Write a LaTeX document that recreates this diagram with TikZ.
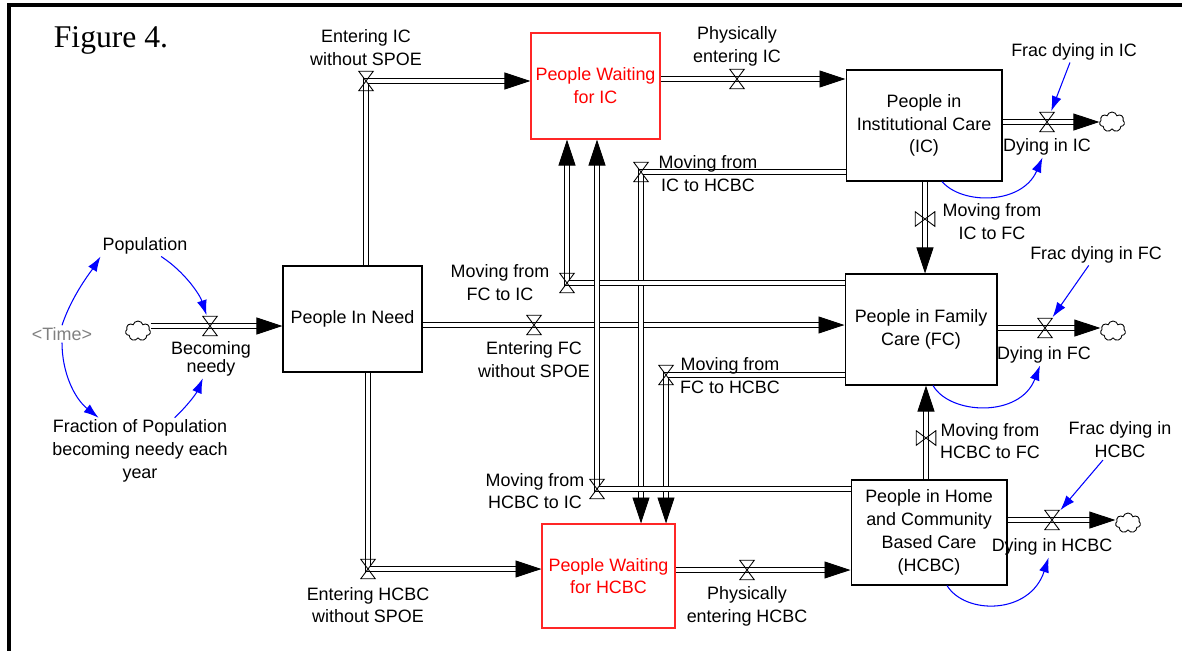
\documentclass[tikz,border=0pt]{standalone}
\usepackage{fontspec}
\setmainfont{Liberation Sans}
\newfontfamily\figfont{Liberation Serif}
\usetikzlibrary{positioning,arrows.meta,shapes.symbols,backgrounds,calc}
\definecolor{linkblue}{HTML}{0000FF}
\definecolor{stockred}{HTML}{FF0000}
\definecolor{shadow}{HTML}{808080}
\tikzset{
  stock/.style={rectangle, draw=black, line width=0.6pt, align=center, inner sep=1pt},
  waiting/.style={stock, draw=stockred!85, text=stockred},
  lbl/.style={align=center, inner sep=1pt},
  valve/.style={inner sep=0pt, minimum width=0.32cm, minimum height=0.42cm,
    path picture={\draw[line width=0.5pt]
      ([shift={(0.4pt,-0.4pt)}]path picture bounding box.north west) --
      ([shift={(-0.4pt,0.4pt)}]path picture bounding box.south east) --
      ([shift={(0.4pt,0.4pt)}]path picture bounding box.south west) --
      ([shift={(-0.4pt,-0.4pt)}]path picture bounding box.north east) -- cycle;}},
  vvalve/.style={inner sep=0pt, minimum width=0.42cm, minimum height=0.32cm,
    path picture={\draw[line width=0.5pt]
      ([shift={(0.4pt,-0.4pt)}]path picture bounding box.north west) --
      ([shift={(-0.4pt,0.4pt)}]path picture bounding box.south east) --
      ([shift={(-0.4pt,-0.4pt)}]path picture bounding box.north east) --
      ([shift={(0.4pt,0.4pt)}]path picture bounding box.south west) -- cycle;}},
  sink/.style={cloud, cloud puffs=7, cloud ignores aspect, draw, line width=0.5pt,
    minimum width=0.5cm, minimum height=0.4cm, inner sep=0pt},
  pipe/.style={double, double distance=0.07cm, line width=0.55pt,
    -{Triangle[length=0.52cm, width=0.34cm]}},
  link/.style={draw=linkblue, line width=0.6pt, -{Latex[length=0.3cm, width=0.2cm]}}
}
\begin{document}
\begin{tikzpicture}[x=0.02cm, y=-0.02cm, font=\fontsize{10.2}{13}\selectfont]
\useasboundingbox (0,0) rectangle (1182,650);
\draw[line width=0.08cm] (9,660) -- (9,5) -- (1190,5);
\node[font=\figfont\fontsize{18}{20}\selectfont] (fig) at (111,40) {Figure 4.};

\node[stock, minimum width=2.78cm, minimum height=2.12cm] (need) at (352.5,319) {People In Need};
\node[waiting, minimum width=2.58cm, minimum height=2.12cm] (wic) at (595.5,86) {People Waiting\\for IC};
\node[waiting, minimum width=2.66cm, minimum height=2.08cm] (whcbc) at (608.5,576) {People Waiting\\for HCBC};
\node[stock, minimum width=3.12cm, minimum height=2.22cm] (ic) at (924,125.5) {People in\\Institutional Care\\(IC)};
\node[stock, minimum width=3.04cm, minimum height=2.22cm] (fc) at (921,329.5) {People in Family\\Care (FC)};
\node[stock, minimum width=3.12cm, minimum height=2.1cm] (hcbc) at (929,532.5) {People in Home\\and Community\\Based Care\\(HCBC)};

\node[sink] (src) at (138,331) {};
\node[sink] (sic) at (1112,122) {};
\node[sink] (sfc) at (1113,331) {};
\node[sink] (shcbc) at (1128,523) {};

\node[valve] (vbn) at (210,326) {};
\node[valve] (veic) at (366,81) {};
\node[valve] (vefc) at (534,325) {};
\node[valve] (vehcbc) at (368,569) {};
\node[valve] (vpic) at (737,79) {};
\node[valve] (vphcbc) at (747,570) {};
\node[valve] (vdic) at (1047,122) {};
\node[valve] (vdfc) at (1045,328) {};
\node[valve] (vdhcbc) at (1052,520) {};
\node[vvalve] (vicfc) at (925,219) {};
\node[vvalve] (vhfc) at (926,438) {};
\node[valve] (vich) at (641,172) {};
\node[valve] (vfch) at (666,375) {};
\node[valve] (vfci) at (567,283) {};
\node[valve] (vhci) at (597,489) {};

\node[lbl] (lbn) at (211,359) {Becoming\\[-3pt]needy};
\node[lbl] (leic) at (366,48) {Entering IC\\without SPOE};
\node[lbl] (lefc) at (534,360) {Entering FC\\without SPOE};
\node[lbl] (lehcbc) at (368,605) {Entering HCBC\\without SPOE};
\node[lbl] (lpic) at (737,46) {Physically\\entering IC};
\node[lbl] (lphcbc) at (747,606) {Physically\\entering HCBC};
\node[lbl] (ldic) at (1047,147) {Dying in IC};
\node[lbl] (ldfc) at (1044,355) {Dying in FC};
\node[lbl] (ldhcbc) at (1052,547) {Dying in HCBC};
\node[lbl] (licfc) at (992,222) {Moving from\\IC to FC};
\node[lbl] (lhfc) at (990,441) {Moving from\\HCBC to FC};
\node[lbl] (lich) at (708,174) {Moving from\\IC to HCBC};
\node[lbl] (lfch) at (730,376) {Moving from\\FC to HCBC};
\node[lbl] (lfci) at (500,283) {Moving from\\FC to IC};
\node[lbl] (lhci) at (535,491) {Moving from\\HCBC to IC};

\node[lbl] (pop) at (145,246) {Population};
\node[lbl, text=shadow] (time) at (62,334) {<Time>};
\node[lbl] (frac) at (140,451) {Fraction of Population\\becoming needy each\\year};
\node[lbl] (fdic) at (1074,52) {Frac dying in IC};
\node[lbl] (fdfc) at (1096,255) {Frac dying in FC};
\node[lbl] (fdhcbc) at (1120,440) {Frac dying in\\HCBC};

\begin{scope}[on background layer]
\draw[pipe] (src.east |- vbn) -- (vbn.center) -- (need.west |- vbn);
\draw[pipe] (need.north -| veic) -- (veic.center) -- (wic.west |- veic);
\draw[pipe] (need.east |- vefc) -- (vefc.center) -- (fc.west |- vefc);
\draw[pipe] (need.south -| vehcbc) -- (vehcbc.center) -- (whcbc.west |- vehcbc);
\draw[pipe] (wic.east |- vpic) -- (vpic.center) -- (ic.west |- vpic);
\draw[pipe] (whcbc.east |- vphcbc) -- (vphcbc.center) -- (hcbc.west |- vphcbc);
\draw[pipe] (ic.east |- vdic) -- (vdic.center) -- (sic.west |- vdic);
\draw[pipe] (fc.east |- vdfc) -- (vdfc.center) -- (sfc.west |- vdfc);
\draw[pipe] (hcbc.east |- vdhcbc) -- (vdhcbc.center) -- (shcbc.west |- vdhcbc);
\draw[pipe] (ic.south -| vicfc) -- (vicfc.center) -- (fc.north -| vicfc);
\draw[pipe] (hcbc.north -| vhfc) -- (vhfc.center) -- (fc.south -| vhfc);
\draw[pipe] (ic.west |- vich) -- (vich.center) -- (whcbc.north -| vich);
\draw[pipe] (fc.west |- vfch) -- (vfch.center) -- (whcbc.north -| vfch);
\draw[pipe] (fc.west |- vfci) -- (vfci.center) -- (wic.south -| vfci);
\draw[pipe] (hcbc.west |- vhci) -- (vhci.center) -- (wic.south -| vhci);
\end{scope}

\draw[link] (time.north) .. controls (72,295) and (92,270) .. (pop.south west);
\draw[link] (time.south) .. controls (62,372) and (74,398) .. (frac);
\draw[link] (pop) .. controls (185,272) and (200,295) .. (vbn);
\draw[link] (frac) .. controls (190,403) and (197,392) .. (lbn);
\draw[link] ($(ic.south)+(18,0)$) .. controls (962,205) and (1022,205) .. (ldic);
\draw[link] ($(fc.south)+(12,0)$) .. controls (950,415) and (1020,418) .. (ldfc);
\draw[link] ($(hcbc.south)+(18,0)$) .. controls (965,615) and (1030,615) .. (ldhcbc);
\draw[link] (fdic) -- (vdic);
\draw[link] (fdfc) -- (vdfc);
\draw[link] (fdhcbc) -- (vdhcbc);
\end{tikzpicture}
\end{document}
